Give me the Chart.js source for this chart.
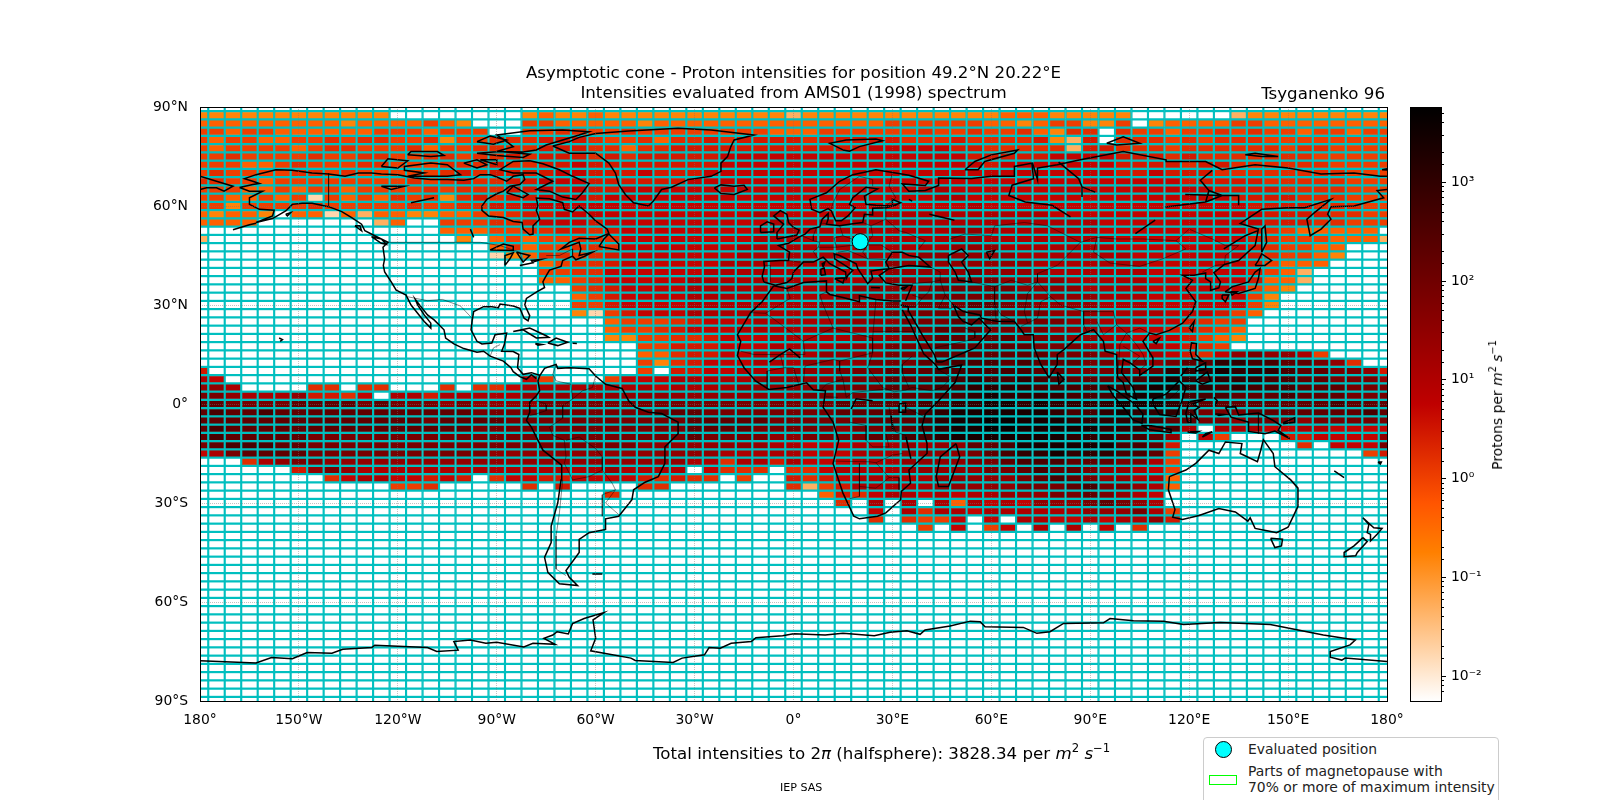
<!DOCTYPE html>
<html>
<head>
<meta charset="utf-8">
<title>Asymptotic cone</title>
<script src="https://cdn.jsdelivr.net/npm/chart.js"></script>
<style>
  body { margin: 0; background: #fff; width: 1600px; height: 800px; overflow: hidden; position: relative;
         font-family: "DejaVu Sans", sans-serif; color: #000; }
  canvas { position: absolute; }
  .txt { position: absolute; white-space: nowrap; line-height: 1; }
  sup { font-size: 70%; line-height: 0; }
  #legend { position: absolute; left: 1203px; top: 737px; width: 296px; height: 80px; border: 1px solid #ccc;
            border-radius: 4px; box-sizing: border-box; background: #fff; font-size: 13.9px; color: #222; }
</style>
</head>
<body>
<canvas id="map" width="1600" height="800" style="left:0;top:0"></canvas>
<canvas id="bar" width="90" height="630" style="left:1400px;top:90px"></canvas>

<div class="txt" style="right:215px;top:86px;font-size:16.67px">Tsyganenko 96</div>
<div class="txt" style="left:653px;top:746px;font-size:16.67px">Total intensities to 2<i>π</i> (halfsphere): 3828.34 per <i>m</i><sup>2</sup> <i>s</i><sup>−1</sup></div>
<div class="txt" style="left:780px;top:782px;font-size:11.1px">IEP SAS</div>
<div class="txt" style="left:1498px;top:405px;font-size:13.9px;transform:translate(-50%,-50%) rotate(-90deg)">Protons per <i>m</i><sup>2</sup> <i>s</i><sup>−1</sup></div>
<div id="legend">
  <div style="position:absolute;left:11px;top:3px;width:17px;height:17px;border-radius:50%;background:#0ff;border:1px solid #000;box-sizing:border-box"></div>
  <div class="txt" style="left:44px;top:5px">Evaluated position</div>
  <div style="position:absolute;left:5px;top:37px;width:28px;height:10px;border:1px solid #0f0;box-sizing:border-box"></div>
  <div class="txt" style="left:44px;top:25px;line-height:16px">Parts of magnetopause with<br>70% or more of maximum intensity</div>
</div>

<script>
const cellLons = [-180,-175,-170,-165,-160,-155,-150,-145,-140,-135,-130,-125,-120,-115,-110,-105,-100,-95,-90,-85,-80,-75,-70,-65,
  -60,-55,-50,-45,-40,-35,-30,-25,-20,-15,-10,-5,0,5,10,15,20,25,30,35,40,45,50,55,60,65,70,75,80,85,90,95,100,105,110,115,120,125,130,135,140,145,150,155,160,165,170,175,180];
const cellLats = [90,87.5,85,82.5,80,77.5,75,72.5,70,67.5,65,62.5,60,57.5,55,52.5,50,47.5,45,42.5,40,37.5,35,32.5,30,27.5,25,22.5,20,17.5,15,12.5,10,7.5,5,2.5,0,
  -2.5,-5,-7.5,-10,-12.5,-15,-17.5,-20,-22.5,-25,-27.5,-30,-32.5,-35,-37.5,-40,-42.5,-45,-47.5,-50,-52.5,-55,-57.5,-60,-62.5,-65,-67.5,-70,-72.5,-75,-77.5,-80,-82.5,-85,-87.5,-90];
const lonTickValues = [-180,-150,-120,-90,-60,-30,0,30,60,90,120,150,180];
const lonTickLabels = ['180°','150°W','120°W','90°W','60°W','30°W','0°','30°E','60°E','90°E','120°E','150°E','180°'];
const latTickValues = [-90,-60,-30,0,30,60,90];
const latTickLabels = ['90°S','60°S','30°S','0°','30°N','60°N','90°N'];
const colorbarTickLabels = ['10⁻²','10⁻¹','10⁰','10¹','10²','10³'];
const intensityMin = 0.0056, intensityMax = 5800;
const evaluatedPosition = [20.22, 49.2];

// intensity, one letter per cell, '.' = nothing arrives there
const levelValues = {A:0.017,B:0.048,C:0.16,D:0.42,E:1.05,F:1.7,G:2.9,H:5.2,I:11.5,J:29,K:74,L:178,M:417,N:1000,O:2400,P:4270};
const intensityRows = [
'........................ ........................ .........................',
'CCCCCCCCCCCC........CDCC DCCCCCCCCCCCBCCCCCCCCCCC CDDDCCCCC......BCCCCCCCCC',
'DDDDDDDDDCDDDDEDC...EEDD DDDCDDDDDDDDDDDDDDEEEEEE DDCDEECCE.CDDDDEEDDDDDDDD',
'EEDEEDDDDDDEEEDEEE..EEFF EEFEEEEEEEEDDDEEEEEEFEEF EEFDCFF.FEEDEEFEFEEDEEDEE',
'EDEEDDEEFEFFEEFCEEFFFGGG FEEFDFFGFGGGGFGGGGGFFFGF FFFGCBG.FFFEFEFFFEEEEEEEE',
'EDEEEEDEFFEEEFDEEFFFFGGG FFDFFGGGGGGGGGGGGHHHHHGG FFFFFBGGFFFEFFFFFFEFFEEEE',
'EEFEEEEFEEFFEEFFEFFGFGGG FGFGGGGGHHHHHHHHHHHHHHHG GGGGHHHHGGGFGFFFFFFFEEEEE',
'EEEDDEFEEEFFEEEFFFGFFGGH GGGGGGGGHHHHHHHHHHHHHHHH GHHHHHHHGGGGFGGFFFFFFEEEE',
'EFEEEEFFEFEEEEEFGFGGGGHH GGGHGGGHHHHHHHHHHHHHHHHH HHHHHHHHGGHGGGFFFFFFFFEEE',
'FFEEDEEEEEEEEFEFGFFGGHHH GGGGGGHHHHHHHHHHHHHHHHHH HHHHHHHHHHHHGGGGGFFFFFEEE',
'EEEDDEDEEDEEEEFEFFFGGHGH GGHHHHHHHHHHHHHHHHHHIIHH HHHHHHHHHHHHHHGGGGFFFFEEE',
'EEDDEDEAEDEDFEFCFGFGGHHH GHHHHHHHHHHHHHHHHHHHHIIH HHHHHHHHHHHHHHHGGGGFFFEEE',
'EECEEEEFEEEEEFEEFFGGHHHH HHHHHHHHHHHHHHHHHHHHHHHI HHHHHHHHHHHHHHHHGGGGFFFEE',
'DCDDC.DDADBDDCCDDEEFGGHH HHHHHHHHHHIIHHHHIIIIIIII IIIIHHHHHHHHHHHHHGGGGFFEE',
'DDDD.......BD..EEEFFGHHH GHHHHHHHHHHIIHIIIIIIIIII IIIIIIIHHHHHHHHHHGGGFFEEE',
'...............DDDEEFFGG FGHHHHHHHHIIIIIIIIIIIIJJ IIIIIIIHHHHHHHHHGFEDDDDD.',
'B...............C.DEDEEF FFHHHHHHHHIIIIIIIIIIIIJJ IIIIIIIIHHHHHHHHGFEEEDDDB',
'..................DFDEEF FFHHHHHHHIIIIIIIIIIIIIJJ JIIIIIIIHHHHHHHHGFEEDD...',
'..................ACDFFE FGHHHHHHHIIIIIIIIIIIJJJJ JJIIIIIIIHHHHHHHGFEEDC...',
'.....................DEF FGHHHHHHIIIIIIIIIIJJJJJJ JJJIIIIIIIHHHHHHGEDDD....',
'.....................EEF FHHHHHHIIIIIIIIIIIJJJJJK JJJJIIIIIIHHHHHHGEDB.....',
'.....................DDE FHHHHHIIIIIIIIIIIJJJJKKK KJJJJIIIIIHHHHHHGDDB.....',
'.......................E FGHHHHIIIIIIIIIIJJJJJKKK KKJJJJIIIIHHHHHHEDC......',
'.......................D EGHHHHIIIIIIIIIJJJJJKKKK KKKJJJJIIIHHHHHHEC.......',
'.......................E EGHHHHIIIIIIIIJJJJKKKKKL LKKJJJJIIIHHHHHHEC.......',
'.......................C AEGHHHIIIIIIIIJJJJKKKKLL LKKKJJJIIIIHHHGED........',
'........................ .DEEEFGHHHIIIIIJJJJKKKLL LLKKKJJIIIHHGFEE.........',
'........................ .DEEFGHHHIIIIIJJJJKKKLLL KKKKJJJIIHHGGFED.........',
'........................ .CCEEFFGHHHIIIIIJJJKKLLL LLKKKJJIIHHHGEDC.........',
'........................ ...EEGGGHHHIIIIJJJKKKLLL LLLKKKJJIIIHGFE..........',
'........................ ...DDFGGHHIIIIJJJJKKKLLL LLLLKKKJIHIHGFHJKJJIE....',
'........................ ...ECFGHHHIIIJJJJKKKLLMM MLMLLLKKJKJKLLNNMMLLKJF..',
'G....................... ...E.GGHHIIIJJJKKKLLLMMM MMMLLKKKLKLNNNONNNMLLKKJG',
'IH..................HE.. .EHHHIIIIIJJJJJKKKLLLMMN MMNMMLLLLMNONMNNNMMLLKKKJ',
'JJI....FF.FF...F.FFHIIII IIIIHIIIIJJJJJKKKKLLLMMN NNNMMMMMMNOONNMNMMMLLLKKK',
'KKJIIIJGGFH.IIGIIIIIJJJJ JJJJJJJJJJJJJKKKKLLLLMMN ONNNNMMMNOONMMMLLLMLLLKKK',
'LLKKKKLLLLKLKKKJKJJJJKKK KKKKKKKKKKKKKKKLLLLLMMNN OONONNNNOOONMLLLLLLLLMLLL',
'LMLLMLLLLLLLLLLLLKKKKLLK KKKKLLLKKKKKKKKLLLLMMNOO OOOONMMNONNNMKKKLLLLLLLML',
'LLLLLLLLLLLLLLKLLLLKKKKK KKKKKKLLLLLKKKKKKLLLMNOO PPOOONNNNNMLLKKJKKKJKKKKK',
'LMLLLLLLLLLLLLLLLKKKKKKK KKKKKKLLLLKKKKKJKKLLMNOO PPOOOOONNNLMI.IIIHHIIHHHH',
'LMLLLLLKKKKKKKKKKKKKKKKK KKKKKKLKKKKJJKKKKLLMMNOO OOOOONNNMMLJ.HE...GGHHHHJ',
'KLMMMLLKKKKKKKKKKKKKKKKK KKKJJJJJJJJIIHHHIIIJIJJL LMOOOOOOMMLG.......F.HHHK',
'HIKLLLLKKKKKKKKKKKJJJJJJ JJJJJJJJIIIIIHHHIIIJJJJK LMNNONNNMMLE...........EG',
'...FIJKKJJJJJJJJJJJJJJJJ JJJJJJIIFIIGIHHHIIIJJJJK KLMMMLLLKKIE.............',
'......GJKJIIIIIIIIIIIIII IJIIII.HFFF.FFHIIIIJJJJJ KKLMLLKJJIHE.............',
'........FHIIHHGHG.FHHGGH HHHGFGFF.E..GFGHIIIIIJJJ JJKLMLKJJIID.............',
'............EEF.....F.G. ...FF.......FBEGIIIIIJJJ JJKKKLMKKJID.............',
'........................ .F............DGFHIIHIHI IJJJKKLKJIH..............',
'........................ ...............F.I.I.IDI HIHJJJKLKJI..............',
'........................ .................H.IFIIH IIIIIIJJJKIE.............',
'........................ .................F.FEEH. H.IIHHIHIIJG.............',
'........................ ....................E.H. EH.I.I.H.F...............'
];

const coastLines = [
 [[-168,65.6],[-164,66.5],[-162,66.8],[-164,67.5],[-166.5,68.3],[-163,69.5],[-157,71],[-152,70.8],[-146,70],[-141,69.7],[-136,69],[-132,70],[-128,70],[-125,69.7],[-120,69.5],[-115,68.5],[-110,68],[-105,68],[-100,67.8],[-97,68.3],[-95,69.5],[-92,69.5],[-90,68.8],[-87,67.5],[-85,69],[-82,69.5],[-81.5,68],[-83,66.5],[-86,66],[-88,64.5],[-90,63.7],[-93,62],[-94.5,60],[-94.5,58.7],[-92.5,57],[-88,56.5],[-85,55.3],[-82.3,55],[-82,53],[-80,51.3],[-79,51.5],[-79,54],[-77,56],[-78,58.7],[-77.5,60],[-78,62.4],[-74,62.2],[-70,61],[-69.5,59],[-67,58.2],[-65,60],[-62,57.5],[-60,55.5],[-56.5,53],[-56,51.7],[-60,50],[-65,50.2],[-68,49],[-70.5,47],[-65,49],[-64.5,47],[-65,45],[-61,46],[-63.5,44.7],[-66,43.7],[-67,44.8],[-70,43.5],[-70.5,41.7],[-74,40.6],[-75.5,38],[-76,37],[-75.5,35.3],[-78,33.9],[-81,32],[-81.5,30],[-80,26.8],[-80.5,25.2],[-81.7,26],[-83,29],[-85,29.7],[-89,30.3],[-89.5,29.2],[-91.5,29.5],[-94,29.5],[-97,28],[-97.5,25],[-97.8,22.5],[-96,19],[-94.5,18.2],[-91.5,18.5],[-90.5,21],[-87,21.5],[-87.7,18],[-88.5,16],[-85,15.9],[-83.3,15],[-83.7,11],[-82,9],[-79.5,9.5],[-77,8.7]],
 [[-168,65.6],[-165,64.5],[-161,64.5],[-165,62.5],[-165,60.5],[-162,59],[-157.5,58.7],[-158,57],[-163,55],[-158,56.2],[-154,58.5],[-152,60.5],[-149,60.8],[-146,60.8],[-141,59.8],[-137,58.3],[-134,56.5],[-131,54.5],[-130,52.5],[-127,51],[-123,49],[-124.5,47.5],[-124,44],[-124.4,42],[-124,40],[-122,37],[-120.5,34.5],[-117.5,33],[-116,30],[-114,27.5],[-112,25],[-110,23],[-110,24.5],[-112,27],[-114,30],[-114.7,31.7],[-113,29.5],[-111,27],[-109,25.5],[-106,22.5],[-105.5,20],[-103,18.2],[-100,16.8],[-96,15.7],[-94,16],[-92,14.5],[-88,13],[-85.7,11],[-85,9.8],[-83,8.3],[-81,7.5],[-79.5,8.9],[-78,7.7]],
 [[-80,73.7],[-76,72.8],[-71,71],[-67,69],[-62,66.8],[-64,64],[-66,62],[-70,62.7],[-74,64.5],[-78,65],[-73,67.5],[-78,70],[-85,70],[-89,71],[-85,73.5],[-80,73.7]],
 [[-117,69],[-105,69],[-101,69.5],[-105,72.5],[-110,73],[-118,72],[-118,70.8],[-112,70],[-117,69]],
 [[-125,72],[-123,74.3],[-117,73.7],[-120,71.5],[-125,72]],
 [[-90,76.5],[-82,76.4],[-78,77],[-75,78.5],[-70,80],[-65,81.5],[-62,82.5],[-70,83],[-80,82.8],[-90,81.5],[-87,79.5],[-85,78],[-90,76.5]],
 [[-96,76],[-90,75.3],[-82,74.7],[-80,75.7],[-89,76.5],[-96,76]],
 [[-117,75.5],[-110,75],[-106,75.3],[-108,76.5],[-116,76.5],[-117,75.5]],
 [[-96,79.5],[-91,78.7],[-87,80],[-92,81.2],[-96,79.5]],
 [[-87,64],[-82,62.5],[-80.5,63.5],[-85,66],[-87,64]],
 [[-100,73],[-96,71.5],[-93,72.5],[-96,74],[-100,73]],
 [[-95,74],[-90,72.5],[-90,74],[-95,74]],
 [[-59,47.7],[-53,46.7],[-53,48.5],[-56,51.5],[-57.5,50],[-59,47.7]],
 [[-128,50.7],[-125,48.7],[-123.5,48.4],[-125,50],[-128,50.7]],
 [[-154,57.5],[-152.5,58],[-153.5,57],[-154,57.5]],
 [[-133,54],[-131.5,54],[-131,52.5],[-133,54]],
 [[-170,52.8],[-165,54.3],[-163,54.8]],
 [[-180,69],[-175,67.5],[-170,66],[-172.7,64.5],[-175,65.5],[-178,65.5],[-180,65]],
 [[-73,78.2],[-68,76],[-60,76],[-56,73],[-54,70],[-53,66.5],[-51,63.5],[-48.5,61],[-44,60],[-42.5,61.5],[-40,65],[-37,65.7],[-32,68],[-25,69],[-22,70.5],[-22,73],[-20,75],[-19,78],[-18,80],[-12,81.5],[-25,83],[-35,83.6],[-50,82.7],[-60,82],[-65,80.8],[-68,79.5],[-73,78.2]],
 [[-24,65.5],[-22,66.4],[-18,66],[-15,66.3],[-14,65],[-18,63.5],[-22,63.8],[-24,65.5]],
 [[15,77],[11,79],[16,80],[25,80.3],[27,79.8],[20,78],[17,76.6],[15,77]],
 [[52,71],[55,73.5],[60,75.5],[68,77],[67,76],[58,73.5],[56,71],[52,71]],
 [[95,79],[100,81],[105,79],[98,78.5],[95,79]],
 [[137,75.5],[142,75],[147,75],[140,76],[137,75.5]],
 [[178.5,71],[180,71.3],[180,70.9],[178.5,71]],
 [[-9,37],[-9.5,38.7],[-8.8,41.5],[-9,43.2],[-4,43.5],[-1.5,43.5],[-1.2,46],[-4.5,48],[-1.5,48.7],[1.5,50.5],[3.5,51.5],[5,53],[8,53.7],[8.7,56],[10.5,57.7],[10.5,56],[10,54.5],[14,54],[18.5,54.7],[21,55],[21.5,57.5],[24,57.3],[24,59.3],[28,59.5],[30,60],[25,60.2],[22,60.5],[21.5,63],[25.5,65.2],[22,65.7],[18,62.5],[17,60.5],[18.7,59.5],[16.5,57],[14.5,55.5],[12.8,55.5],[11.5,58.5],[10.5,59.2],[8,58],[5.5,59],[5,62],[10,64],[14,67.5],[18,69.5],[25,71],[31,70],[35,69.3],[41,67.5],[40,66.2],[33,66.7],[35,64.5],[40,64.7],[44,66.2],[44,68.5],[54,68.3],[60,69],[67,69],[67,72],[72.5,73],[74,68],[74,71.5],[80,72.5],[87,74],[100,76.5],[113,74],[113,73.5],[125,73.5],[130,71],[140,72.5],[150,71.5],[160,69.7],[170,70],[178,69],[180,69]],
 [[180,65],[177,64.7],[179,62.5],[170,60],[163,59.8],[162,57.5],[163,56],[160,53],[156.7,51],[155.7,56],[158,58],[163,62],[155,59.5],[150,59.5],[142,59],[135.5,54.7],[141,53],[140,48],[135,43.5],[130.7,42.3],[127.5,39.8],[129.5,37],[129,35.2],[126.5,34.5],[126.5,37],[125,38],[125,39.7],[121.5,39],[118,39],[121,37.5],[119,35],[122,31],[121,28],[118,24.5],[114,22.3],[110,21],[108,21.5],[106,19],[109,14],[109,11.5],[105,8.7],[105,10.3],[102,12.5],[100,13.5],[99.5,9.5],[103,5],[104,1.5],[101,3],[100,6.5],[98.3,8],[98,15],[94.5,16],[94,19],[91,22.5],[87,21],[82,16.5],[80,15],[80,12],[77.5,8],[75,12],[73,17],[72.7,21],[70,21],[69,22.5],[67,25],[61.5,25.1],[57,26],[56.5,27],[51.5,28],[48.5,30],[50,26.5],[51.5,25],[54,24],[56.3,26],[58.7,23.5],[59.8,22.5],[55,17],[52,15.7],[45,12.7],[43.5,12.7],[42.7,15],[39,21],[35,28],[34.8,29.5],[32.5,30]],
 [[33,28.5],[35.5,24],[37.3,20],[39.5,15.2],[43,12],[44,10.5],[51,11.8],[49,6.5],[44,1],[40,-3],[39,-6.5],[40.5,-12],[40.5,-15],[35,-20],[35.5,-24],[32.7,-26.5],[32.5,-29],[28,-33],[25.5,-34],[20,-34.8],[18.3,-34],[15,-27],[12,-18],[13.7,-11],[12,-5.5],[9,-1],[9.7,4],[6,4.3],[4,6.4],[-2,5],[-7.5,4.4],[-11.5,7],[-15,11],[-17,14.7],[-16,19],[-17,21],[-13,27.7],[-9.5,31],[-6,35.8],[-2,35],[3,36.8],[10,37.3],[10,34],[11,33.2],[15,32.3],[20,31],[20,32.8],[25,31.7],[30,31.2],[32.5,31.2]],
 [[34,31.3],[36,36],[32,36],[28,36.7],[26,39],[29,41],[35,42],[41.5,41.5],[38,44.5],[35,45],[33,46],[30,46],[28,43],[29,41],[26,40.7],[23.5,40.3],[24,38],[22.5,36.5],[19.5,41],[19,42.5],[14,45],[12.3,45.5],[12.5,44],[18,40.5],[16.5,39],[16,38],[15.8,40],[11,42.5],[9,44.5],[6,43],[3,43],[0,40],[-0.5,38],[-2,36.8],[-5.5,36],[-9,37]],
 [[47,45],[51,47],[53,45],[51,43],[53,40],[54,37],[50,37.5],[49,40],[47,43],[47,45]],
 [[-92,46.7],[-88,48.5],[-85,47.8],[-85,46.5],[-92,46.7]],
 [[-87.5,42],[-86,44],[-85,45.8],[-87.5,45],[-87.5,42]],
 [[-84,46],[-80,45],[-82,43],[-84,46]],
 [[-83,42],[-79,42.8],[-79.5,43.5],[-76.5,43.8],[-79,43]],
 [[-125,66],[-118,66],[-122,65],[-125,66]],
 [[-116,61],[-109,62.5]],
 [[-98,53],[-97,50.5]],
 [[-5,50],[1,51.2],[1.7,52.7],[0,53.5],[-1.5,55],[-2,57.5],[-4,58.6],[-6,57],[-3,54.5],[-5,52],[-5,50]],
 [[-10,52],[-6,52.2],[-6,54.5],[-8,55.2],[-10,54],[-10,52]],
 [[8.3,39],[9.7,39.2],[9.3,41.2],[8.3,40.8],[8.3,39]],
 [[9,41.5],[9.5,43],[8.7,42.5],[9,41.5]],
 [[12.5,38],[15.5,38.2],[15,36.7],[12.5,38]],
 [[23.5,35.3],[26.2,35.2]],
 [[32.5,35],[34.5,35.6],[33.5,34.7],[32.5,35]],
 [[130.9,34],[135,33.5],[140,35],[141,38],[141.5,41],[140,40],[138,37],[133,35.5],[130.9,34]],
 [[140,42],[143,42],[145,43.5],[142,45.5],[141,43.5],[140,42]],
 [[130,33],[132,33],[131,31],[130,32],[130,33]],
 [[132.5,34],[134.5,34],[133,33],[132.5,34]],
 [[142,46],[143.5,49],[143,54],[142,53],[142,47],[142,46]],
 [[120,23],[121.5,25],[121,22],[120,23]],
 [[109,19],[111,20],[110,18.3],[109,19]],
 [[120.3,16],[120.7,18.5],[122.2,18.3],[122,15],[124,13],[121,13.7],[120.3,16]],
 [[122,7],[125.5,9.7],[126.5,7],[124,6],[122,7]],
 [[117.5,8.5],[119.5,11]],
 [[122,11],[125,12.5],[125,10.5],[122,10],[122,11]],
 [[95.3,5.5],[98,4],[103.5,0],[106,-3],[105.7,-5.8],[103,-4.8],[100,-1],[97,2.5],[95.3,5.5]],
 [[105.5,-6.5],[108.5,-6.6],[114.5,-7.7],[114.5,-8.7],[108,-7.8],[105.5,-6.5]],
 [[109,1.5],[113,3],[117,7],[119,5],[117.8,1],[116,-3.8],[111,-3.2],[109,0],[109,1.5]],
 [[119.5,-5.5],[119,-2.8],[120,0.7],[125,1.5],[121,0],[123,-1],[121.5,-2],[122.7,-4.7],[120.5,-3],[120.5,-5.5],[119.5,-5.5]],
 [[131,-1],[134,-0.8],[135,-3.3],[141,-2.7],[145.5,-5],[147.8,-6.5],[147,-8],[150.5,-10.5],[146,-8.2],[143,-9],[138,-8.3],[138,-5.5],[132.7,-4],[131,-1]],
 [[124,-10],[127,-8.4],[125,-9],[124,-10]],
 [[119.5,-8.5],[123,-8.3],[122,-8.8],[119.5,-8.5]],
 [[128,-3],[130.7,-3.2],[129,-3.5],[128,-3]],
 [[127.5,2],[128.5,1],[128,-0.5]],
 [[148.5,-5.7],[152,-4.2],[152,-5.5],[148.5,-6]],
 [[80,9.7],[82,7.5],[80.5,6],[80,9.7]],
 [[49.3,-12],[50.4,-16],[47,-25],[44,-25],[43.3,-22],[44.5,-16],[49.3,-12]],
 [[114,-22],[113.7,-26],[115.7,-32],[115,-34.3],[118,-35],[123,-33.8],[129,-31.7],[134,-32.7],[137.8,-35.5],[138.5,-34.5],[140,-37.7],[144,-38.5],[146.5,-39],[150,-37.3],[153,-31],[153,-25.5],[150.8,-23],[146,-19],[145.5,-15],[142.5,-10.8],[141.7,-14],[140.7,-17.5],[135.5,-15],[136,-12],[131,-11.5],[129,-15],[126,-14],[122,-18],[119,-20],[114,-22]],
 [[144.7,-40.7],[148.3,-41],[148,-43],[146,-43.5],[144.7,-40.7]],
 [[172.7,-34.5],[176,-37.5],[178.5,-37.7],[177,-39.5],[175,-41.5],[175,-39.5],[174,-39],[174.5,-36.5],[172.7,-34.5]],
 [[172.7,-40.5],[174,-41.7],[171,-45],[170.5,-46],[167,-46.3],[167,-45],[170,-43],[172.7,-40.5]],
 [[164,-20.3],[167,-22.3]],
 [[177.3,-17.6],[178.3,-17.6],[178,-18.2],[177.3,-17.6]],
 [[-85,22],[-80,23],[-75,20.7],[-74.2,20.2],[-78,20],[-82,22.5],[-85,22]],
 [[-74.5,18.5],[-72,20],[-68.5,18.7],[-71.5,17.7],[-74.5,18.5]],
 [[-78.3,18.3],[-76.3,18],[-77.5,17.8],[-78.3,18.3]],
 [[-67,18.4],[-65.7,18.3]],
 [[-156,20],[-155,19.5],[-155.7,19]],
 [[-61,-51.5],[-58,-51.5]],
 [[-77,8.5],[-75.5,10.8],[-72,12],[-71.5,10.8],[-68,11],[-62,10.7],[-60,8.5],[-57,6],[-52,4.7],[-50,1],[-48,-1],[-44,-2.5],[-40,-2.9],[-35,-5.5],[-35,-9],[-39,-13],[-39,-18],[-41,-22],[-45,-23.7],[-48.5,-26],[-49,-29],[-53,-34],[-57,-34.8],[-57,-38],[-62,-39],[-65,-41],[-65,-45],[-69,-50.5],[-68,-52.5],[-65.5,-55],[-71,-54.5],[-74.5,-51],[-75.5,-46.5],[-73.5,-42],[-73.5,-37],[-71.5,-30],[-70.5,-23],[-70.3,-18.5],[-76,-14],[-79.5,-7],[-81,-5],[-80,-2.5],[-80,0.5],[-78,2.5],[-77,4],[-77.5,7],[-77,8.5]],
 [[-180,-77.8],[-163,-78.5],[-158.3,-76.8],[-152,-77.2],[-147.5,-75.3],[-140,-75.5],[-136.7,-74.3],[-127.9,-73.8],[-127,-73.1],[-111,-73.8],[-108.2,-75],[-101.7,-74.6],[-103,-72],[-98,-71.5],[-93.3,-72.5],[-90,-72.2],[-81.8,-73.6],[-79,-72.5],[-72.3,-72.8],[-75.7,-71],[-73,-70],[-71.7,-69],[-68.3,-69.7],[-67,-66.5],[-63.5,-65],[-57.5,-63.2],[-60.8,-65.4],[-60,-71],[-61.5,-74.8],[-49.3,-77],[-48,-77.7],[-36.5,-78.3],[-33.8,-77],[-27,-76],[-25.6,-73.8],[-22.2,-74],[-18.9,-72.5],[-12.8,-72],[-11.4,-70.8],[-3.3,-70.2],[0,-69.6],[9.6,-70],[15,-69.5],[24.5,-70.2],[29.3,-69.2],[34.4,-68.7],[38.4,-69.8],[39.9,-68.5],[47.5,-67.3],[53.6,-65.8],[56.6,-66],[58.1,-67.5],[69.7,-67.7],[73.8,-69.5],[77.8,-69],[81.9,-66.5],[94,-66.3],[96,-65],[103.1,-65.7],[112.2,-65.8],[118.3,-66.8],[129.4,-66.2],[144.6,-66.8],[160.7,-70],[170.4,-71.5],[168.8,-73],[162.8,-75],[162.8,-76.7],[166.3,-77.6],[167.3,-77],[180,-78]],
 // big rivers and lakes, they are part of the outline on the reference
 [[72.3,72.8],[72.8,68.3],[66.3,66.3],[65.3,63.2],[70.3,61.2],[78.4,60.2],[84,56.7]],
 [[80.4,73.3],[86.5,68.3],[87.5,65.8],[87.5,62.7]],
 [[87.5,65.8],[91.5,64.2]],
 [[127,70.8],[123.4,67.8],[126,64.7],[130,63.2],[135,63.2],[135,60.2]],
 [[125,61.2],[126,64.7]],
 [[112.8,59.7],[125,61.2],[130,63.2]],
 [[118.8,63.5],[130,63.2]],
 [[130.5,47],[137,51],[141,52.6]],
 [[103.7,51.6],[109.7,55.7]],
 [[41.2,57.5],[48.8,55.7]],
 [[30,60],[32.5,61],[30,62],[30,60]],
 [[35,62],[36,61.5]],
 [[58.5,46],[61,46.5],[59.5,44],[58.5,46]],
 [[17.5,-1.5],[19,1.6],[24,1]],
 [[-7.3,12.7],[-4,15],[-1.2,16.7],[2,14]],
 [[32,0],[34,0.3],[34,-2.5],[32,-2.5],[32,0]],
 [[29.6,-3.5],[30.1,-8]],
 [[34.1,-10],[35.6,-16.6]]
];
const borderLines = [
 [[-141,70],[-141,60]],
 [[-123,49],[-95,49],[-89,48],[-83,46],[-82,43]],
 [[-75,45],[-71,45],[-67,47],[-67,45]],
 [[-117,32.5],[-111,31.3],[-106.5,31.7],[-101,29.7],[-97.5,26]],
 [[-92,14.5],[-91,17],[-89,18]],
 [[-72,12],[-73,9],[-72,7],[-67.5,6],[-67,1.5],[-70,-0.5],[-70,-4.3],[-74,-7],[-73,-9.5],[-69.5,-11],[-69,-16],[-69.5,-18]],
 [[-60,8.5],[-61,5],[-64,4],[-67,1.5]],
 [[-78,1],[-75,0],[-75,-2],[-78,-3],[-80,-3.5]],
 [[-69,-11],[-65,-10],[-60,-13.5],[-58,-16],[-58,-20],[-62,-22],[-67,-23],[-69.5,-18]],
 [[-58,-20],[-55,-24],[-54,-26],[-58,-27.5],[-58,-34]],
 [[-54,-26],[-57,-30],[-53,-33.5]],
 [[-70,-23],[-71,-33],[-72,-40],[-72,-50],[-69,-52]],
 [[-2,35],[-1,32],[-8.5,27.5],[-13,27.7]],
 [[-8.5,27.5],[-5,25],[3,19],[12,23],[9,30],[8,33],[10,34]],
 [[12,23],[14,22.5],[24,20],[25,31.7]],
 [[24,22],[36.8,22]],
 [[24,20],[24,15.5],[22.5,11],[27,5],[30.5,3.7],[34,4.2],[36,5],[42,4],[45,5],[48,8],[43,11]],
 [[24,15.5],[14,13],[14,10],[15,7.5],[10,6],[8.5,4.5]],
 [[14,13],[12,13.5],[3.5,11.5],[3,6.5]],
 [[3,19],[3.5,15],[-4,15],[-12,15],[-16,16]],
 [[-4,15],[-3,11],[-8,10],[-8,4.5]],
 [[-3,11],[0,11],[1.5,6.2]],
 [[36,14.5],[33,12],[33,9.5],[35,5]],
 [[15,7.5],[16,2],[18,3.5],[28,4.5]],
 [[13.5,2],[9.8,2.2]],
 [[17,-5.5],[22,-6.5],[22,-11],[24,-13],[29,-13],[28,-9]],
 [[29,-1],[29.6,-4.5],[31,-8.5],[34,-9.5],[35,-14]],
 [[34,0.3],[34,-1],[40,-4]],
 [[12,-17.3],[23,-17.5],[25,-17.8],[30,-15.5],[33,-15]],
 [[20,-18],[20,-28],[17,-28.7]],
 [[25,-17.8],[29,-22.3],[32,-22.3],[32,-26]],
 [[20,-25],[25,-25.5],[29,-22.3]],
 [[3,43],[1.5,43],[-1.5,43.5]],
 [[-7,37],[-7,42],[-9,42]],
 [[2.5,51],[6,49.5],[8,49],[7.5,47.5],[6,46.2],[7.5,44]],
 [[7,53.5],[6,51],[6,49.5]],
 [[8.5,54.8],[10,54.7]],
 [[14,54],[15,51],[12.3,50.3],[13,47.5],[7.5,47.5]],
 [[15,51],[19,49.5],[22.5,49],[24,51],[23.5,54],[21,55]],
 [[13,47.5],[17,48],[22.5,48.2],[22.5,49]],
 [[22.5,48.2],[26.5,48.2],[30,46]],
 [[22.5,48.2],[21,46],[22.5,44],[28,43.8]],
 [[13.5,46],[16.5,46.5],[19,45.5],[22.5,44]],
 [[28,60],[31,62.5],[29,66],[30,70]],
 [[24,68],[20,69],[14,65],[12,61],[11.5,59]],
 [[24,66],[24,68]],
 [[28,56],[32,52.5],[34,52],[40,49.5],[38,47]],
 [[23.5,54],[28,56],[28,59.5]],
 [[47.5,50],[52,51.5],[60,51],[61,54],[70,55],[77,54],[87,49],[92,50.5],[98,50],[106,50],[116,49.5],[120,53],[127,50],[131,48],[135,48],[131,45],[130.7,42.3]],
 [[87,49],[83,45],[80,42],[74,39.5],[74,37],[71,36],[66,37.5],[61,35.5],[61,30],[61.5,25.1]],
 [[74,37],[78,32.5],[81,30],[88,28],[92,28],[97,28],[98,24],[101,21.5],[105,23],[108,21.5]],
 [[92,50.5],[91,46],[96,42.7],[105,41.7],[112,44],[119,47],[116,49.5]],
 [[61,35.5],[54,37]],
 [[61,30],[63,27],[67,25]],
 [[74,37],[71,33.5],[70,28],[71,24.5],[69,23.5]],
 [[78,32.5],[75,31],[74,26],[71,24.5]],
 [[88,28],[88,24],[89,22]],
 [[92,25],[94,21],[98,24]],
 [[101,21.5],[99,18],[98.5,10.5]],
 [[101,21.5],[104,18],[106,15],[107,12],[105,10.3]],
 [[100,17.5],[105,14.5],[102.5,12]],
 [[124,40],[128,42],[130.7,42.3]],
 [[36,36.5],[42,37],[44.5,37.5],[46,33],[48.5,30]],
 [[42,37],[41,34],[39,32],[36,33]],
 [[46,33],[44,29],[48,29]],
 [[39,32],[37,29.5],[35,29.5]],
 [[44.5,37.5],[44.5,40],[41.5,41.5]],
 [[52,23],[55,22],[55,20],[52,19],[45,17.5],[43,17]],
 [[141,-2.7],[141,-9]],
 [[109.5,1.5],[114,1.5],[117,4.3]]
];

function cellColor(v) {
  if (v === null) return '#ffffff';
  const lo = Math.log10(intensityMin), hi = Math.log10(intensityMax);
  const x = 1 - (Math.log10(v) - lo) / (hi - lo);
  const clip = a => Math.round(255 * Math.max(0, Math.min(1, a)));
  return 'rgb(' + clip(1.5 * x) + ',' + clip(2 * x - 1) + ',' + clip(4 * x - 3) + ')';
}

const cells = [], cellColors = [];
cellLats.forEach((lat, r) => {
  const row = (intensityRows[r] || '').replace(/ /g, '');
  cellLons.forEach((lon, c) => {
    const code = row[c];
    const v = code && code !== '.' ? levelValues[code] : null;
    cells.push({ x: lon, y: [lat - 1.25, lat + 1.25] });
    cellColors.push(cellColor(v));
  });
});

function polylinePoints(lines) {
  const pts = [];
  lines.forEach(line => {
    line.forEach(p => pts.push({ x: p[0], y: p[1] }));
    pts.push({ x: NaN, y: NaN });
  });
  return pts;
}

const font = { family: '"DejaVu Sans"', size: 13.9 };
const axesFrame = {
  id: 'axesFrame',
  afterDraw(chart) {
    const a = chart.chartArea, c = chart.ctx;
    c.save();
    c.strokeStyle = '#000';
    c.lineWidth = 1;
    c.strokeRect(Math.round(a.left) + 0.5, Math.round(a.top) + 0.5, Math.round(a.width), Math.round(a.height));
    c.restore();
  }
};

new Chart(document.getElementById('map'), {
  type: 'bar',
  data: {
    datasets: [
      { label: 'Evaluated position', type: 'scatter', order: 0, data: [{ x: evaluatedPosition[0], y: evaluatedPosition[1] }],
        pointRadius: 8, backgroundColor: '#00ffff', borderColor: '#000', borderWidth: 1 },
      { label: 'coast', type: 'line', order: 1, data: polylinePoints(coastLines), borderColor: '#000', borderWidth: 1.5,
        pointRadius: 0, spanGaps: false, tension: 0, clip: 0 },
      { label: 'borders', type: 'line', order: 2, data: polylinePoints(borderLines), borderColor: 'rgba(0,0,0,0.75)', borderWidth: 0.6,
        pointRadius: 0, spanGaps: false, tension: 0, clip: 0 },
      { label: 'cells', order: 3, data: cells, backgroundColor: cellColors, borderColor: '#00bfbf', borderWidth: 1.4,
        borderSkipped: false, barPercentage: 1, categoryPercentage: 1, grouped: false, clip: 0 }
    ]
  },
  plugins: [axesFrame],
  options: {
    responsive: false,
    animation: false,
    devicePixelRatio: 1,
    events: [],
    layout: { padding: { top: 64, left: 140, right: 213, bottom: 49 } },
    plugins: {
      legend: { display: false },
      tooltip: { enabled: false },
      title: {
        display: true,
        fullSize: false,
        color: '#000',
        text: ['Asymptotic cone - Proton intensities for position 49.2°N 20.22°E', 'Intensities evaluated from AMS01 (1998) spectrum'],
        font: { family: font.family, size: 16.67, weight: 'normal', lineHeight: 1.2 },
        padding: { top: 0, bottom: 3 }
      }
    },
    scales: {
      x: {
        type: 'linear', min: -180, max: 180, offset: false,
        afterFit(s) { s.height = 50; },
        afterBuildTicks(s) { s.ticks = lonTickValues.map(v => ({ value: v })); },
        grid: { z: 1, offset: false, color: 'rgba(120,120,120,0.45)', lineWidth: 1, drawTicks: false },
        border: { display: false, dash: [1, 1] },
        ticks: { color: '#000', font, padding: 11, maxRotation: 0, autoSkip: false,
                 callback: v => lonTickLabels[lonTickValues.indexOf(v)] }
      },
      y: {
        type: 'linear', min: -90, max: 90,
        afterFit(s) { s.width = 60; },
        afterBuildTicks(s) { s.ticks = latTickValues.map(v => ({ value: v })); },
        grid: { z: 1, color: 'rgba(120,120,120,0.45)', lineWidth: 1, drawTicks: false },
        border: { display: false, dash: [1, 1] },
        ticks: { color: '#000', font, padding: 12, autoSkip: false,
                 callback: v => latTickLabels[latTickValues.indexOf(v)] }
      }
    }
  }
});

// colour bar, same colormap, stops are where gist_heat_r bends
const colorbarStops = [[0, '#ffffff'], [0.25, '#ff8000'], [0.3333, '#ff5500'], [0.5, '#bf0000'], [1, '#000000']];
const isDecade = v => Math.abs(Math.log10(v) - Math.round(Math.log10(v))) < 1e-6;

new Chart(document.getElementById('bar'), {
  type: 'bar',
  data: {
    labels: [''],
    datasets: [{
      data: [[intensityMin, intensityMax]],
      backgroundColor(ctx) {
        const a = ctx.chart.chartArea;
        if (!a) return '#000';
        const g = ctx.chart.ctx.createLinearGradient(0, a.bottom, 0, a.top);
        colorbarStops.forEach(s => g.addColorStop(s[0], s[1]));
        return g;
      },
      barPercentage: 1, categoryPercentage: 1
    }]
  },
  plugins: [axesFrame],
  options: {
    responsive: false,
    animation: false,
    devicePixelRatio: 1,
    events: [],
    layout: { padding: { top: 17, left: 10, right: 0, bottom: 19 } },
    plugins: { legend: { display: false }, tooltip: { enabled: false } },
    scales: {
      x: { display: false },
      y: {
        type: 'logarithmic', position: 'right', min: intensityMin, max: intensityMax,
        afterFit(s) { s.width = 49; },
        afterBuildTicks(s) { s.ticks = s.ticks.filter(t => t.value !== intensityMin && t.value !== intensityMax); },
        grid: { drawOnChartArea: false, tickLength: 5, tickWidth: 1, tickColor: '#000',
                tickBorderDash: ctx => (ctx.tick && isDecade(ctx.tick.value)) ? [] : [3, 10] },
        border: { display: false },
        ticks: { color: '#000', font, padding: 5, autoSkip: false, maxRotation: 0,
                 callback: v => isDecade(v) ? colorbarTickLabels[Math.round(Math.log10(v)) + 2] : '' }
      }
    }
  }
});
</script>
</body>
</html>
